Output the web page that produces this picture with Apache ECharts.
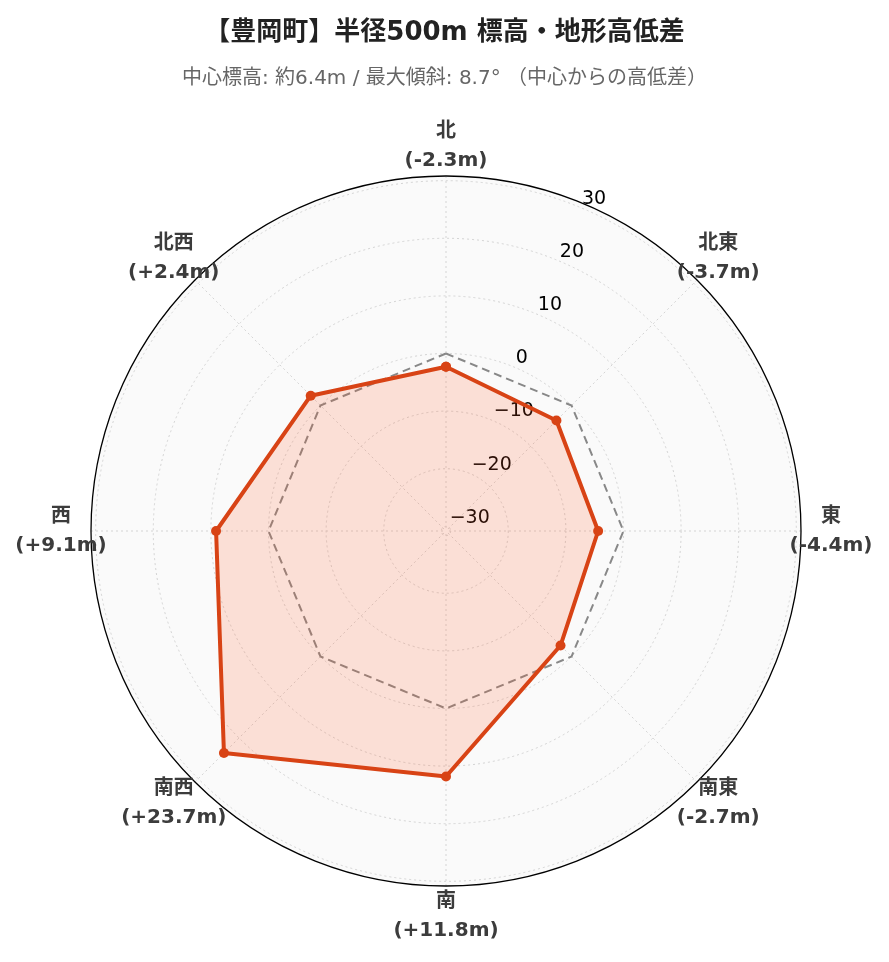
<!DOCTYPE html>
<html><head><meta charset="utf-8">
<script src="https://cdn.jsdelivr.net/npm/echarts@6/dist/echarts.min.js"></script>
<style>html,body{margin:0;padding:0;background:#fff}#c{width:889px;height:962px}</style>
</head><body><div id="c"></div>
<script>
const directions = ['北', '北東', '東', '南東', '南', '南西', '西', '北西'];
const diffs = [-2.3, -3.7, -4.4, -2.7, 11.8, 23.7, 9.1, 2.4];
const baseline = [0, 0, 0, 0, 0, 0, 0, 0];
const radialTicks = [-30, -20, -10, 0, 10, 20, 30];
const radialMax = 30.81;

const step = 360 / directions.length;
function toPolar(arr) {
  const pts = arr.map((v, i) => [v, i * step]);
  pts.push([arr[0], 360]);
  return pts;
}
function fmtDiff(v) {
  return '(' + (v > 0 ? '+' : '') + v.toFixed(1) + 'm)';
}
const LATIN = '"DejaVu Sans", "Noto Sans CJK JP", sans-serif';
const GRID = {color: '#d4d4d4', type: [2, 3], width: 1};
const hiddenAxis = {
  axisLine: {show: false}, axisTick: {show: false}, axisLabel: {show: false},
  splitLine: {show: false}, splitArea: {show: false}
};

const chart = echarts.init(document.getElementById('c'), null, {renderer: 'canvas'});
chart.setOption({
  backgroundColor: '#ffffff',
  animation: false,
  title: {
    text: '【豊岡町】半径500m 標高・地形高低差',
    subtext: '中心標高: 約6.4m / 最大傾斜: 8.7° （中心からの高低差）',
    left: 'center',
    top: 12,
    itemGap: 18,
    textStyle: {fontFamily: LATIN, fontSize: 26, lineHeight: 32, fontWeight: 'bold', color: '#222'},
    subtextStyle: {fontFamily: LATIN, fontSize: 20, lineHeight: 24, color: '#666'}
  },
  polar: [
    {center: [446, 531], radius: 355},
    {center: [446, 531], radius: 355},
    {center: [446, 531], radius: 385}
  ],
  angleAxis: [
    Object.assign({}, hiddenAxis, {
      polarIndex: 0, type: 'value', min: 0, max: 360, interval: step,
      startAngle: 90, clockwise: true, z: 2,
      axisLine: {show: true, lineStyle: {color: '#000', width: 1.3}},
      splitLine: {show: true, lineStyle: GRID}
    }),
    Object.assign({}, hiddenAxis, {
      polarIndex: 1, type: 'value', min: 0, max: 360, interval: step, startAngle: 67.5, z: -1,
      splitArea: {show: true, areaStyle: {color: ['#fafafa']}}
    }),
    Object.assign({}, hiddenAxis, {
      polarIndex: 2, type: 'value', min: 0, max: 360, startAngle: 90, clockwise: true
    })
  ],
  radiusAxis: [
    Object.assign({}, hiddenAxis, {
      polarIndex: 0, type: 'value', min: -radialMax, max: radialMax, z: 2,
      axisTick: {show: false, customValues: radialTicks},
      axisLabel: {show: false, customValues: radialTicks},
      splitLine: {show: true, lineStyle: GRID}
    }),
    Object.assign({}, hiddenAxis, {
      polarIndex: 1, type: 'value', min: -radialMax, max: radialMax, z: 3,
      axisTick: {show: false, customValues: radialTicks},
      axisLabel: {
        show: true, customValues: radialTicks, margin: -2, align: 'left', verticalAlign: 'bottom',
        fontFamily: LATIN, fontSize: 19, color: '#000',
        formatter: function (v) { return v < 0 ? '\u2212' + Math.abs(v) : String(v); }
      }
    }),
    Object.assign({}, hiddenAxis, {
      polarIndex: 2, type: 'value', min: 0, max: 1
    })
  ],
  series: [
    {
      type: 'line', coordinateSystem: 'polar', polarIndex: 0,
      data: toPolar(baseline), symbol: 'none', silent: true,
      lineStyle: {color: '#888', width: 2, type: [8, 5]}, z: 3
    },
    {
      type: 'line', coordinateSystem: 'polar', polarIndex: 0,
      data: toPolar(diffs), symbol: 'circle', symbolSize: 10, showAllSymbol: true,
      itemStyle: {color: '#d84315'},
      lineStyle: {color: '#d84315', width: 4},
      areaStyle: {color: 'rgba(255,87,34,0.17)', opacity: 1, origin: 'start'}, z: 4
    },
    {
      type: 'scatter', coordinateSystem: 'polar', polarIndex: 2, clip: false, silent: true,
      data: directions.map((d, i) => [1, i * step]),
      symbolSize: 0,
      itemStyle: {opacity: 1},
      label: {
        show: true, position: 'inside', opacity: 1,
        fontFamily: LATIN, fontSize: 20, fontWeight: 'bold', color: '#3c3c3c', lineHeight: 29,
        formatter: function (p) { return directions[p.dataIndex] + '\n' + fmtDiff(diffs[p.dataIndex]); }
      }
    }
  ]
});
</script></body></html>
